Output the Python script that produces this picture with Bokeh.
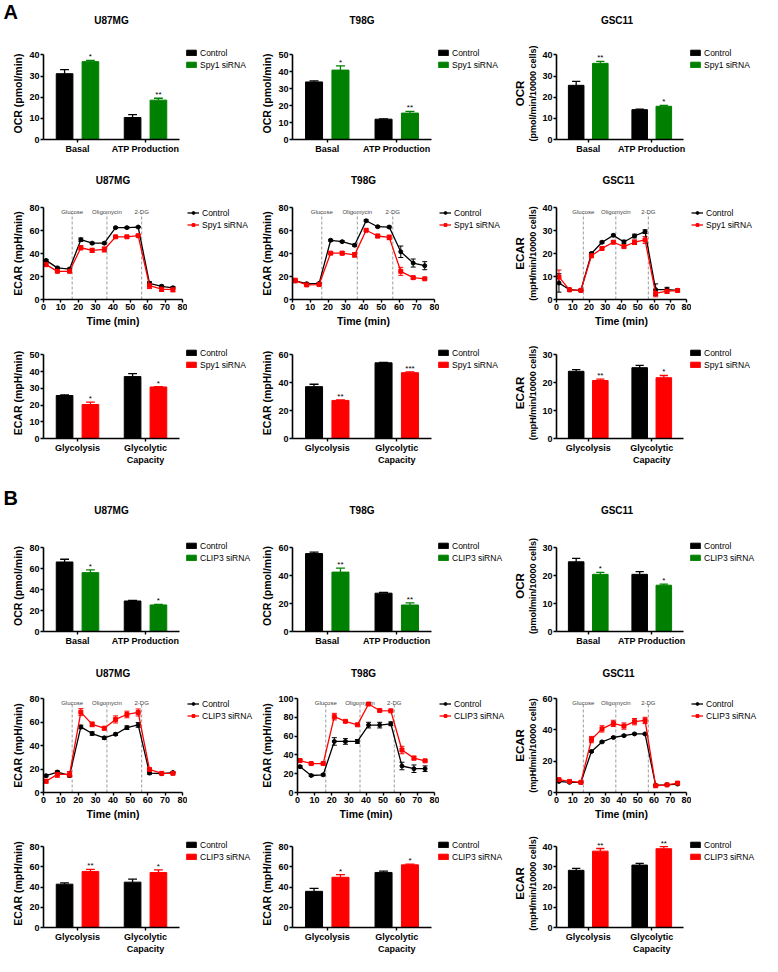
from bokeh.plotting import figure
from bokeh.layouts import column, row
from bokeh.models import (ColumnDataSource, FactorRange, Range1d, FixedTicker, Legend,
                          LegendItem, LinearAxis, Whisker, TeeHead, Label)
from bokeh.transform import dodge
from bokeh.core.properties import value
from bokeh.embed import file_html
from bokeh.resources import INLINE

FONT = "Liberation Sans"
BLACK = "#000000"
GREEN = "#008000"
RED = "#FF0000"
NAN = float("nan")

# ---------------- data ----------------
cell_lines = ["U87MG", "T98G", "GSC11"]
ocr_categories = ["Basal", "ATP Production"]
ecar_categories = ["Glycolysis", "Glycolytic\nCapacity"]
label_ctrl = "Control"
label_spy1 = "Spy1 siRNA"
label_clip3 = "CLIP3 siRNA"
time_min = [1.5, 8, 15, 21.5, 28, 35, 41.5, 48, 54.5, 61, 68, 74.5]
time_ticks = [0, 10, 20, 30, 40, 50, 60, 70, 80]
injection_time = [16.5, 36.5, 56.5]
injection_name = ["Glucose", "Oligomycin", "2-DG"]

# A: Spy1 knock-down -- OCR bars [Basal, ATP Production]
a_ocr_u87_ctrl = [31.1, 10.4]; a_ocr_u87_ctrl_err = [1.9, 1.4]
a_ocr_u87_si = [36.8, 18.6];   a_ocr_u87_si_err = [0.6, 0.9];  a_ocr_u87_sig = ["*", "**"]
a_ocr_t98_ctrl = [34.0, 12.0]; a_ocr_t98_ctrl_err = [0.6, 0.2]
a_ocr_t98_si = [41.0, 15.6];   a_ocr_t98_si_err = [2.5, 1.0];  a_ocr_t98_sig = ["*", "**"]
a_ocr_gsc_ctrl = [25.6, 14.1]; a_ocr_gsc_ctrl_err = [1.9, 0.3]
a_ocr_gsc_si = [36.0, 15.7];   a_ocr_gsc_si_err = [0.9, 0.4];  a_ocr_gsc_sig = ["**", "*"]

# A: ECAR time courses
a_ect_u87_ctrl = [34.0, 27.5, 26.5, 52.0, 49.0, 49.0, 62.5, 62.5, 63.0, 14.0, 11.5, 10.2]
a_ect_u87_ctrl_err = [0.8, 0.8, 0.8, 1.5, 0.8, 0.8, 0.6, 0.6, 0.6, 1.5, 1.0, 1.0]
a_ect_u87_si = [30.3, 24.5, 24.5, 45.0, 42.7, 43.5, 54.5, 54.5, 55.5, 12.0, 9.0, 8.5]
a_ect_u87_si_err = [0.8, 0.8, 1.0, 1.8, 1.8, 2.2, 0.8, 0.8, 1.0, 2.5, 2.0, 1.8]
a_ect_t98_ctrl = [16.3, 13.7, 14.0, 51.5, 50.3, 47.2, 68.5, 63.3, 63.0, 41.5, 31.7, 29.4]
a_ect_t98_ctrl_err = [1.0, 0.8, 0.8, 0.8, 0.8, 1.0, 0.8, 0.8, 0.8, 5.0, 3.5, 3.5]
a_ect_t98_si = [16.5, 12.7, 13.0, 40.3, 40.3, 38.8, 60.2, 55.2, 54.0, 24.5, 19.0, 18.0]
a_ect_t98_si_err = [2.0, 1.0, 1.0, 1.0, 1.5, 2.0, 1.0, 1.5, 2.0, 3.5, 1.2, 0.8]
a_ect_gsc_ctrl = [7.2, 4.3, 3.9, 20.0, 24.9, 27.9, 25.0, 27.6, 29.5, 4.3, 4.3, 4.0]
a_ect_gsc_ctrl_err = [4.0, 0.5, 0.3, 0.5, 0.4, 0.5, 0.8, 0.8, 0.8, 2.5, 1.0, 0.5]
a_ect_gsc_si = [9.8, 4.2, 4.0, 19.0, 22.2, 24.9, 23.0, 24.9, 25.9, 2.7, 3.6, 3.9]
a_ect_gsc_si_err = [3.0, 0.4, 0.3, 0.5, 0.5, 0.5, 0.6, 1.0, 1.5, 1.5, 1.0, 0.5]

# A: ECAR bars [Glycolysis, Glycolytic Capacity]
a_ecb_u87_ctrl = [25.7, 37.0]; a_ecb_u87_ctrl_err = [0.4, 1.8]
a_ecb_u87_si = [20.3, 30.8];   a_ecb_u87_si_err = [1.4, 0.2];  a_ecb_u87_sig = ["*", "*"]
a_ecb_t98_ctrl = [37.2, 54.3]; a_ecb_t98_ctrl_err = [1.7, 0.3]
a_ecb_t98_si = [27.3, 47.2];   a_ecb_t98_si_err = [0.3, 0.6];  a_ecb_t98_sig = ["**", "***"]
a_ecb_gsc_ctrl = [24.1, 25.4]; a_ecb_gsc_ctrl_err = [0.6, 0.8]
a_ecb_gsc_si = [20.8, 21.8];   a_ecb_gsc_si_err = [0.5, 0.8];  a_ecb_gsc_sig = ["**", "*"]

# B: CLIP3 knock-down -- OCR bars
b_ocr_u87_ctrl = [66.5, 29.2]; b_ocr_u87_ctrl_err = [2.6, 0.6]
b_ocr_u87_si = [56.3, 25.4];   b_ocr_u87_si_err = [2.6, 0.6];  b_ocr_u87_sig = ["*", "*"]
b_ocr_t98_ctrl = [55.9, 27.5]; b_ocr_t98_ctrl_err = [1.1, 0.5]
b_ocr_t98_si = [42.6, 19.0];   b_ocr_t98_si_err = [2.8, 1.5];  b_ocr_t98_sig = ["**", "**"]
b_ocr_gsc_ctrl = [25.0, 20.5]; b_ocr_gsc_ctrl_err = [1.2, 1.0]
b_ocr_gsc_si = [20.5, 16.6];   b_ocr_gsc_si_err = [0.7, 0.4];  b_ocr_gsc_sig = ["*", "*"]

# B: ECAR time courses
b_ect_u87_ctrl = [14.3, 17.4, 14.6, 55.8, 50.2, 46.5, 49.6, 55.2, 57.5, 16.5, 16.0, 17.0]
b_ect_u87_ctrl_err = [1.0, 1.0, 1.0, 1.5, 1.5, 1.2, 1.0, 1.5, 2.0, 1.0, 0.5, 0.5]
b_ect_u87_si = [9.6, 15.4, 15.4, 68.4, 58.0, 54.7, 62.2, 66.4, 68.1, 19.6, 16.3, 16.3]
b_ect_u87_si_err = [1.5, 2.5, 2.5, 3.0, 2.0, 1.5, 3.0, 2.8, 3.0, 1.0, 0.6, 0.8]
b_ect_t98_ctrl = [27.5, 18.1, 18.8, 54.3, 54.3, 54.3, 71.7, 71.7, 73.1, 28.2, 25.3, 25.3]
b_ect_t98_ctrl_err = [1.0, 1.0, 1.0, 4.0, 3.0, 2.0, 3.0, 3.0, 2.0, 4.0, 4.0, 3.0]
b_ect_t98_si = [34.0, 30.8, 30.8, 80.7, 75.7, 72.0, 94.1, 87.2, 86.9, 45.2, 36.6, 33.7]
b_ect_t98_si_err = [1.0, 0.8, 0.8, 3.5, 1.0, 1.0, 1.0, 1.0, 1.0, 4.0, 2.0, 1.0]
b_ect_gsc_ctrl = [7.1, 6.5, 6.5, 26.2, 32.3, 35.1, 36.3, 37.4, 37.4, 4.7, 4.9, 5.4]
b_ect_gsc_ctrl_err = [0.5, 0.4, 0.4, 0.5, 0.5, 0.5, 0.5, 0.5, 0.5, 0.4, 0.4, 0.5]
b_ect_gsc_si = [8.2, 7.1, 6.5, 33.8, 40.6, 44.1, 42.4, 45.2, 46.0, 4.3, 4.9, 6.0]
b_ect_gsc_si_err = [0.5, 0.5, 0.4, 2.0, 2.0, 2.0, 2.0, 2.0, 2.0, 0.6, 0.5, 0.8]

# B: ECAR bars
b_ecb_u87_ctrl = [42.9, 44.9]; b_ecb_u87_ctrl_err = [1.2, 2.9]
b_ecb_u87_si = [55.5, 54.4];   b_ecb_u87_si_err = [2.0, 2.6];  b_ecb_u87_sig = ["**", "*"]
b_ecb_t98_ctrl = [35.8, 54.5]; b_ecb_t98_ctrl_err = [2.9, 1.3]
b_ecb_t98_si = [49.7, 62.0];   b_ecb_t98_si_err = [2.6, 0.8];  b_ecb_t98_sig = ["*", "*"]
b_ecb_gsc_ctrl = [28.3, 30.9]; b_ecb_gsc_ctrl_err = [1.0, 0.8]
b_ecb_gsc_si = [37.8, 39.0];   b_ecb_gsc_si_err = [1.3, 1.0];  b_ecb_gsc_sig = ["**", "**"]

# ---------------- layout constants ----------------
COL_W = [258, 252, 252]
COL_X = [0, 258, 510]
COL_LEFT = [43, 34, 40]
BAR_FW = [136, 139, 133]
TIME_FW = [139, 142, 136]
BAR_RIGHT = 6
TIME_RIGHT = 5
LEG_PAD = 2
HEAD = 8  # px of headroom above the bar axes for significance marks
TOTAL_W = sum(COL_W)


def style_axes(p):
    p.outline_line_color = None
    for ax in p.axis:
        ax.axis_line_width = 1.6
        ax.axis_line_color = BLACK
        ax.major_tick_line_width = 1.4
        ax.major_tick_line_color = BLACK
        ax.major_tick_out = 3
        ax.major_tick_in = 0
        ax.minor_tick_line_color = None
        ax.major_label_text_font = FONT
        ax.major_label_text_font_style = "bold"
        ax.major_label_text_font_size = "9px"
        ax.major_label_text_color = BLACK
        ax.major_label_standoff = 1
        ax.axis_label_text_font = FONT
        ax.axis_label_text_font_style = "bold"
        ax.axis_label_text_font_size = "10.5px"
        ax.axis_label_text_color = BLACK
        ax.axis_label_standoff = 2
    p.xgrid.grid_line_color = None
    p.ygrid.grid_line_color = None


def make_fig(col, H, top, bottom, fw, right, x_range, y_end, ymax, ystep):
    p = figure(width=COL_LEFT[col] + fw + right, height=H, min_border_left=COL_LEFT[col],
               min_border_right=right, min_border_top=top, min_border_bottom=bottom,
               x_range=x_range, y_range=Range1d(0, y_end), output_backend="svg",
               toolbar_location=None)
    style_axes(p)
    p.yaxis.ticker = FixedTicker(ticks=list(range(0, ymax + 1, ystep)))
    p.yaxis.bounds = (0, ymax)
    return p


def add_ylabel(p, ylabel, ylabel2):
    if ylabel2 is None:
        p.yaxis.axis_label = ylabel
    else:
        p.yaxis.axis_label = ylabel2
        p.yaxis.axis_label_text_font_size = "9px"
        p.yaxis.axis_label_standoff = 1
        outer = LinearAxis(ticker=FixedTicker(ticks=[]), axis_label=ylabel,
                           axis_line_color=None, major_tick_line_color=None,
                           minor_tick_line_color=None, major_tick_out=0,
                           major_label_standoff=0, axis_label_standoff=0,
                           axis_label_text_font=FONT, axis_label_text_font_style="bold",
                           axis_label_text_font_size="11.5px", axis_label_text_color=BLACK)
        p.add_layout(outer, "left")


def legend_fig(width, H, axis_top, bottom, kind, si_color, si_label):
    lf = figure(width=width, height=H, min_border_left=0, min_border_right=0,
                min_border_top=axis_top, min_border_bottom=bottom,
                x_axis_type=None, y_axis_type=None, output_backend="svg",
                toolbar_location=None)
    lf.outline_line_color = None
    # legend proxies: glyphs whose (NaN) coordinates draw nothing in the frame
    if kind == "bar":
        r1 = [lf.vbar(x=[NAN], top=[NAN], width=0.5, fill_color=BLACK, line_color=BLACK)]
        r2 = [lf.vbar(x=[NAN], top=[NAN], width=0.5, fill_color=si_color, line_color=si_color)]
    else:
        r1 = [lf.line(x=[NAN], y=[NAN], line_color=BLACK, line_width=1.3),
              lf.scatter(x=[NAN], y=[NAN], marker="circle", size=4, color=BLACK)]
        r2 = [lf.line(x=[NAN], y=[NAN], line_color=si_color, line_width=1.3),
              lf.scatter(x=[NAN], y=[NAN], marker="square", size=4, color=si_color)]
    leg = Legend(items=[LegendItem(label=label_ctrl, renderers=r1),
                        LegendItem(label=si_label, renderers=r2)],
                 location="top_left", orientation="vertical",
                 glyph_width=12, glyph_height=7, label_height=11, label_width=10,
                 label_standoff=3, spacing=1, padding=LEG_PAD, margin=0,
                 border_line_color=None, background_fill_alpha=0,
                 label_text_font=FONT, label_text_font_size="8.5px",
                 label_text_color=BLACK)
    lf.add_layout(leg)
    return lf


def bar_panel(col, H, top, bottom, cats, ctrl, ctrl_err, si, si_err, sig, si_color,
              si_label, ymax, ystep, ylabel, ylabel2=None):
    fh = H - top - bottom
    fw = BAR_FW[col]
    y_end = ymax * (fh + HEAD) / fh
    p = make_fig(col, H, top - HEAD, bottom, fw, BAR_RIGHT,
                 FactorRange(*cats, range_padding=0), y_end, ymax, ystep)
    src = ColumnDataSource(dict(
        cat=cats, ctrl=ctrl, si=si, sig=sig,
        ctrl_hi=[v + e for v, e in zip(ctrl, ctrl_err)],
        si_hi=[v + e for v, e in zip(si, si_err)]))
    bw, off, cap = 0.245, 0.19, 0.065
    xr = p.x_range
    p.vbar(x=dodge("cat", -off, range=xr), top="ctrl", width=bw, source=src,
           fill_color=BLACK, line_color=BLACK)
    p.vbar(x=dodge("cat", off, range=xr), top="si", width=bw, source=src,
           fill_color=si_color, line_color=si_color)
    for o, lo, hi, c in [(-off, "ctrl", "ctrl_hi", BLACK), (off, "si", "si_hi", si_color)]:
        p.segment(x0=dodge("cat", o, range=xr), y0=lo, x1=dodge("cat", o, range=xr), y1=hi,
                  source=src, line_color=c, line_width=1.3)
        p.segment(x0=dodge("cat", o - cap, range=xr), y0=hi, x1=dodge("cat", o + cap, range=xr),
                  y1=hi, source=src, line_color=c, line_width=1.3)
    p.text(x=dodge("cat", off, range=xr), y="si_hi", text="sig", source=src,
           text_align="center", text_baseline="bottom", y_offset=1,
           text_font=value(FONT), text_font_size="8px", text_color=BLACK)
    p.xaxis.major_label_orientation = "horizontal"
    add_ylabel(p, ylabel, ylabel2)
    lf = legend_fig(COL_W[col] - p.width, H, top, bottom, "bar", si_color, si_label)
    return [p, lf]


def time_panel(col, H, top, bottom, ctrl, ctrl_err, si, si_err, si_color, si_label,
               ymax, ystep, ylabel, ylabel2=None):
    fw = TIME_FW[col]
    p = make_fig(col, H, top, bottom, fw, TIME_RIGHT, Range1d(0, 80), ymax, ymax, ystep)
    p.xaxis.ticker = FixedTicker(ticks=time_ticks)
    p.xaxis.axis_label = "Time (min)"
    src = ColumnDataSource(dict(
        t=time_min, c=ctrl, s=si,
        c_lo=[v - e for v, e in zip(ctrl, ctrl_err)], c_hi=[v + e for v, e in zip(ctrl, ctrl_err)],
        s_lo=[v - e for v, e in zip(si, si_err)], s_hi=[v + e for v, e in zip(si, si_err)]))
    inj = ColumnDataSource(dict(x=injection_time, name=injection_name,
                                y0=[0] * len(injection_time),
                                y1=[ymax * 0.935] * len(injection_time),
                                ytop=[ymax] * len(injection_time)))
    p.segment(x0="x", y0="y0", x1="x", y1="y1", source=inj, line_color="#9a9a9a",
              line_dash="3 2", line_width=1)
    p.text(x="x", y="ytop", text="name", source=inj, text_align="center",
           text_baseline="top", y_offset=1, text_font=value(FONT), text_font_size="6px",
           text_color="#444444")
    for lo, hi, c in [("c_lo", "c_hi", BLACK), ("s_lo", "s_hi", si_color)]:
        w = Whisker(base="t", lower=lo, upper=hi, source=src, line_color=c, line_width=1,
                    upper_head=TeeHead(size=5, line_color=c, line_width=1),
                    lower_head=TeeHead(size=5, line_color=c, line_width=1))
        p.add_layout(w)
    p.line("t", "c", source=src, line_color=BLACK, line_width=1.3)
    p.scatter("t", "c", source=src, marker="circle", size=4, color=BLACK)
    p.line("t", "s", source=src, line_color=si_color, line_width=1.3)
    p.scatter("t", "s", source=src, marker="square", size=4, color=si_color)
    add_ylabel(p, ylabel, ylabel2)
    lf = legend_fig(COL_W[col] - p.width, H, top, bottom, "line", si_color, si_label)
    return [p, lf]


def heading_row(H, title_from_top, frame_widths, letter=None, letter_top=0):
    """A thin strip holding the panel letter and the cell-line titles."""
    f = figure(width=TOTAL_W, height=H, min_border_left=0, min_border_right=0,
               min_border_top=0, min_border_bottom=0, x_axis_type=None, y_axis_type=None,
               output_backend="svg", toolbar_location=None)
    f.outline_line_color = None
    for i, name in enumerate(cell_lines):
        f.add_layout(Label(x=COL_X[i] + COL_LEFT[i] + frame_widths[i] / 2,
                           y=H - title_from_top, x_units="screen", y_units="screen",
                           text=name, text_align="center", text_baseline="middle",
                           text_font=FONT, text_font_style="bold", text_font_size="10px",
                           text_color=BLACK))
    if letter:
        f.add_layout(Label(x=3, y=H - letter_top, x_units="screen", y_units="screen",
                           text=letter, text_align="left", text_baseline="top",
                           text_font=FONT, text_font_style="bold", text_font_size="20px",
                           text_color=BLACK))
    return f


OCR1 = "OCR (pmol/min)"
ECAR1 = "ECAR (mpH/min)"
OCR2 = "(pmol/min/10000 cells)"
ECAR2 = "(mpH/min/10000 cells)"

# ---- plot-row geometry: (height, top, bottom) ----
R1 = (118, 8, 18); R2 = (128, 6, 30); R3 = (138, 18, 29)
R4 = (117, 8, 18); R5 = (130, 6, 30); R6 = (134, 17, 27)

H1 = heading_row(39, 20, BAR_FW, "A", 0)
A1 = (bar_panel(0, *R1, ocr_categories, a_ocr_u87_ctrl, a_ocr_u87_ctrl_err, a_ocr_u87_si,
                a_ocr_u87_si_err, a_ocr_u87_sig, GREEN, label_spy1, 40, 10, OCR1)
      + bar_panel(1, *R1, ocr_categories, a_ocr_t98_ctrl, a_ocr_t98_ctrl_err, a_ocr_t98_si,
                  a_ocr_t98_si_err, a_ocr_t98_sig, GREEN, label_spy1, 50, 10, OCR1)
      + bar_panel(2, *R1, ocr_categories, a_ocr_gsc_ctrl, a_ocr_gsc_ctrl_err, a_ocr_gsc_si,
                  a_ocr_gsc_si_err, a_ocr_gsc_sig, GREEN, label_spy1, 40, 10, "OCR", OCR2))
H2 = heading_row(44, 23, TIME_FW)
A2 = (time_panel(0, *R2, a_ect_u87_ctrl, a_ect_u87_ctrl_err, a_ect_u87_si, a_ect_u87_si_err,
                 RED, label_spy1, 80, 20, ECAR1)
      + time_panel(1, *R2, a_ect_t98_ctrl, a_ect_t98_ctrl_err, a_ect_t98_si, a_ect_t98_si_err,
                   RED, label_spy1, 80, 20, ECAR1)
      + time_panel(2, *R2, a_ect_gsc_ctrl, a_ect_gsc_ctrl_err, a_ect_gsc_si, a_ect_gsc_si_err,
                   RED, label_spy1, 40, 10, "ECAR", ECAR2))
A3 = (bar_panel(0, *R3, ecar_categories, a_ecb_u87_ctrl, a_ecb_u87_ctrl_err, a_ecb_u87_si,
                a_ecb_u87_si_err, a_ecb_u87_sig, RED, label_spy1, 50, 10, ECAR1)
      + bar_panel(1, *R3, ecar_categories, a_ecb_t98_ctrl, a_ecb_t98_ctrl_err, a_ecb_t98_si,
                  a_ecb_t98_si_err, a_ecb_t98_sig, RED, label_spy1, 60, 20, ECAR1)
      + bar_panel(2, *R3, ecar_categories, a_ecb_gsc_ctrl, a_ecb_gsc_ctrl_err, a_ecb_gsc_si,
                  a_ecb_gsc_si_err, a_ecb_gsc_sig, RED, label_spy1, 30, 10, "ECAR", ECAR2))

H4 = heading_row(65, 43, BAR_FW, "B", 19)
B1 = (bar_panel(0, *R4, ocr_categories, b_ocr_u87_ctrl, b_ocr_u87_ctrl_err, b_ocr_u87_si,
                b_ocr_u87_si_err, b_ocr_u87_sig, GREEN, label_clip3, 80, 20, OCR1)
      + bar_panel(1, *R4, ocr_categories, b_ocr_t98_ctrl, b_ocr_t98_ctrl_err, b_ocr_t98_si,
                  b_ocr_t98_si_err, b_ocr_t98_sig, GREEN, label_clip3, 60, 20, OCR1)
      + bar_panel(2, *R4, ocr_categories, b_ocr_gsc_ctrl, b_ocr_gsc_ctrl_err, b_ocr_gsc_si,
                  b_ocr_gsc_si_err, b_ocr_gsc_sig, GREEN, label_clip3, 30, 10, "OCR", OCR2))
H5 = heading_row(43, 24, TIME_FW)
B2 = (time_panel(0, *R5, b_ect_u87_ctrl, b_ect_u87_ctrl_err, b_ect_u87_si, b_ect_u87_si_err,
                 RED, label_clip3, 80, 20, ECAR1)
      + time_panel(1, *R5, b_ect_t98_ctrl, b_ect_t98_ctrl_err, b_ect_t98_si, b_ect_t98_si_err,
                   RED, label_clip3, 100, 20, ECAR1)
      + time_panel(2, *R5, b_ect_gsc_ctrl, b_ect_gsc_ctrl_err, b_ect_gsc_si, b_ect_gsc_si_err,
                   RED, label_clip3, 60, 20, "ECAR", ECAR2))
B3 = (bar_panel(0, *R6, ecar_categories, b_ecb_u87_ctrl, b_ecb_u87_ctrl_err, b_ecb_u87_si,
                b_ecb_u87_si_err, b_ecb_u87_sig, RED, label_clip3, 80, 20, ECAR1)
      + bar_panel(1, *R6, ecar_categories, b_ecb_t98_ctrl, b_ecb_t98_ctrl_err, b_ecb_t98_si,
                  b_ecb_t98_si_err, b_ecb_t98_sig, RED, label_clip3, 80, 20, ECAR1)
      + bar_panel(2, *R6, ecar_categories, b_ecb_gsc_ctrl, b_ecb_gsc_ctrl_err, b_ecb_gsc_si,
                  b_ecb_gsc_si_err, b_ecb_gsc_sig, RED, label_clip3, 40, 10, "ECAR", ECAR2))

layout = column(
    H1, row(*A1, spacing=0), H2, row(*A2, spacing=0), row(*A3, spacing=0),
    H4, row(*B1, spacing=0), H5, row(*B2, spacing=0), row(*B3, spacing=0),
    spacing=0)

with open("out.html", "w") as f:
    f.write(file_html(layout, INLINE, title="Spy1 / CLIP3 metabolism"))
